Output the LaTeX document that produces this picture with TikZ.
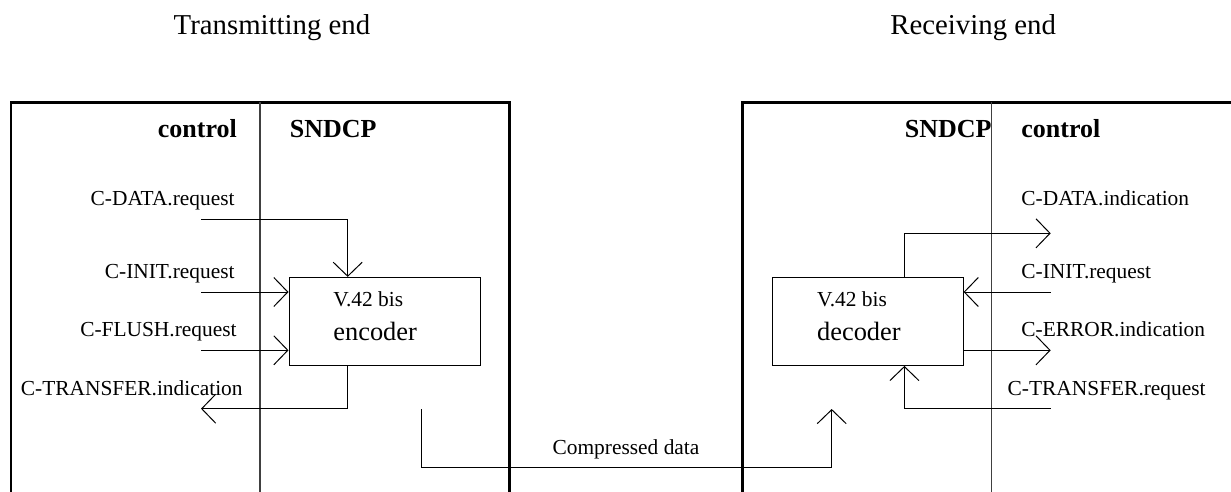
\documentclass[tikz,border=0pt]{standalone}
\usepackage{fontspec}
\setmainfont{Liberation Serif}
\usepackage{tikz}
\usetikzlibrary{arrows.meta, positioning}
\tikzstyle{frame} = [line width=1.2pt, color=black]
\tikzstyle{divider} = [line width=0.6pt, color=black!75]
\tikzstyle{arrow} = [-{Straight Barb[length=7pt, width=14.5pt]}, line width=0.5pt, color=black]

\begin{document}
\begin{tikzpicture}[
    x=0.5pt, y=-0.5pt,
    codec/.style={rectangle, draw, line width=0.5pt, minimum width=95.5pt, minimum height=44pt, inner sep=0pt},
    lbl/.style={inner sep=0pt, font=\fontsize{10.7}{12}\selectfont},
    biglbl/.style={inner sep=0pt, font=\fontsize{13.2}{15}\selectfont},
    head/.style={inner sep=0pt, font=\fontsize{14.4}{17}\selectfont},
    layer/.style={inner sep=0pt, font=\fontsize{13}{15}\selectfont\bfseries}
  ]
    \useasboundingbox (0,0) rectangle (1231,492);

    % Headings
    \node[head, anchor=base west] (txend) at (173.3,35) {Transmitting end};
    \node[head, anchor=base west] (rxend) at (890,35) {Receiving end};

    % Frames, open at the bottom
    \draw[frame] (10.7,492) |- (509.3,102.5) -- (509.3,492);
    \draw[frame] (742.5,492) |- (1235,102.5);
    \draw[divider] (260,102.5) -- (260,492);
    \draw[divider] (991.7,102.5) -- (991.7,492);

    \node[layer, anchor=base east] (txctrl) at (237.3,137.5) {control};
    \node[layer, anchor=base west] (txsn) at (289.5,137.5) {SNDCP};
    \node[layer, anchor=base east] (rxsn) at (992,137.5) {SNDCP};
    \node[layer, anchor=base west] (rxctrl) at (1021,137.5) {control};

    % Transmitting end: encoder
    \node[codec] (enc) at (384.5,321.4) {};
    \node[lbl, anchor=base west] (encv) at (333,306.7) {V.42 bis};
    \node[biglbl, anchor=base west] (encn) at (333,340) {encoder};

    \node[lbl, anchor=base east] (dreqtxt) at (235,205) {C-DATA.request};
    \node[lbl, anchor=base east] (ireqtxt) at (235,278.3) {C-INIT.request};
    \node[lbl, anchor=base east] (freqtxt) at (237,336.7) {C-FLUSH.request};
    \node[lbl, anchor=base east] (tindtxt) at (243,395) {C-TRANSFER.indication};

    \coordinate (dreq) at (201,219.3);
    \coordinate (ireq) at (201,292);
    \coordinate (freq) at (201,350.3);
    \coordinate (tind) at (201,408.7);

    \draw[arrow] (dreq) -| ([xshift=-18.4pt]enc.north);
    \draw[arrow] (ireq) -- (ireq -| enc.west);
    \draw[arrow] (freq) -- (freq -| enc.west);
    \draw[arrow] ([xshift=-18.4pt]enc.south) |- (tind);

    % Receiving end: decoder
    \node[codec] (dec) at (867.6,321.4) {};
    \node[lbl, anchor=base west] (decv) at (816.7,306.7) {V.42 bis};
    \node[biglbl, anchor=base west] (decn) at (816.7,340) {decoder};

    \node[lbl, anchor=base west] (dindtxt) at (1021,205) {C-DATA.indication};
    \node[lbl, anchor=base west] (rinittxt) at (1021,278.3) {C-INIT.request};
    \node[lbl, anchor=base west] (eindtxt) at (1021,336.7) {C-ERROR.indication};
    \node[lbl, anchor=base west] (treqtxt) at (1007.3,395) {C-TRANSFER.request};

    \coordinate (dind) at (1050.7,233.3);
    \coordinate (rinit) at (1050.7,292);
    \coordinate (eind) at (1050.7,350.3);
    \coordinate (treq) at (1050.7,408.7);

    \draw[arrow] ([xshift=18.4pt]dec.north) |- (dind);
    \draw[arrow] (rinit) -- (rinit -| dec.east);
    \draw[arrow] (eind -| dec.east) -- (eind);
    \draw[arrow] (treq) -| ([xshift=18.4pt]dec.south);

    % Compressed data between the two ends
    \coordinate (cdout) at (421.3,409);
    \coordinate (cdin) at (831.7,409);
    \draw[arrow] (cdout) -- ++(0,58) -| (cdin);
    \node[lbl, anchor=base] (cdtxt) at (626,454) {Compressed data};
  \end{tikzpicture}
\end{document}
